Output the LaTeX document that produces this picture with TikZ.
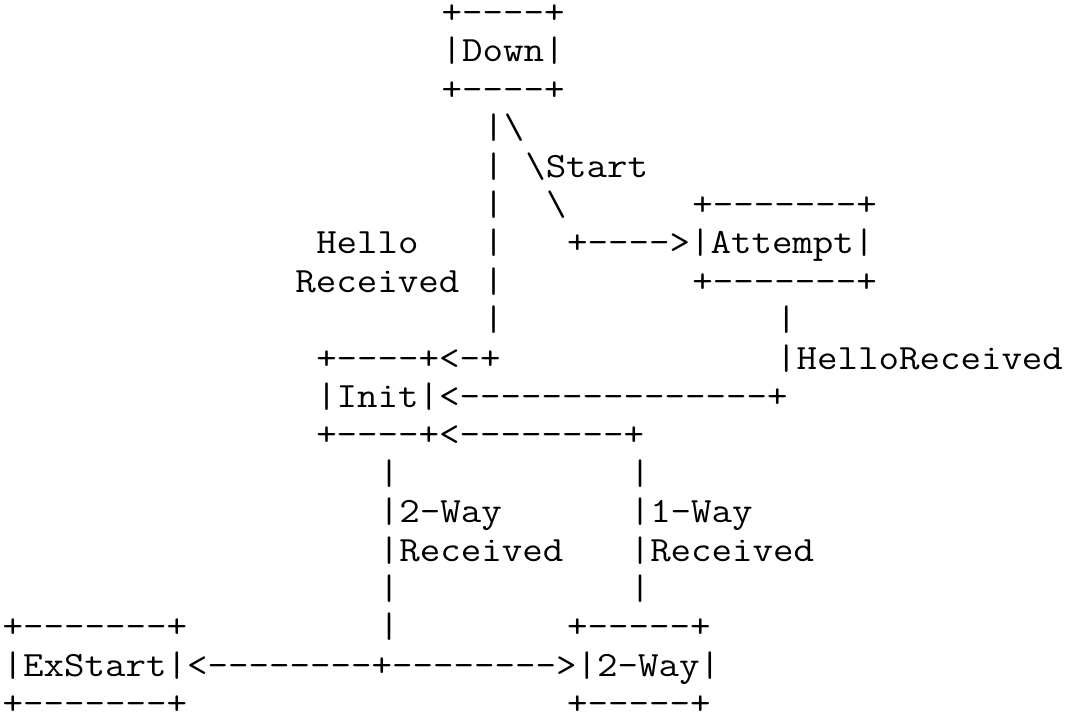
\documentclass[tikz,border=0pt]{standalone}
\usepackage{graphicx}
\newcommand\asc[1]{\scalebox{1.121}[1]{\fontsize{35.5pt}{38pt}\selectfont\ttfamily #1}}
\tikzset{txt/.style={inner sep=0pt, anchor=base west}}
\begin{document}
\begin{tikzpicture}[x=20.9pt, y=-38.39pt]
\useasboundingbox (-0.122,-0.615) rectangle (51.505,18.06);
\node[txt] (downtop) at (21,0) {\asc{+----+}};
\node[txt] (down) at (21,1) {\asc{|Down|}};
\node[txt] (downbot) at (21,2) {\asc{+----+}};
\node[txt] (hlA) at (23,3) {\asc{|\textbackslash}};
\node[txt] (hlB) at (23,4) {\asc{|}};
\node[txt] (startA) at (25,4) {\asc{\textbackslash Start}};
\node[txt] (hlC) at (23,5) {\asc{|}};
\node[txt] (startB) at (26,5) {\asc{\textbackslash}};
\node[txt] (attemptop) at (33,5) {\asc{+-------+}};
\node[txt] (hello) at (15,6) {\asc{Hello}};
\node[txt] (hlD) at (23,6) {\asc{|}};
\node[txt] (attempt) at (27,6) {\asc{+---->|Attempt|}};
\node[txt] (received) at (14,7) {\asc{Received}};
\node[txt] (hlE) at (23,7) {\asc{|}};
\node[txt] (attemptbot) at (33,7) {\asc{+-------+}};
\node[txt] (hlF) at (23,8) {\asc{|}};
\node[txt] (hrA) at (37,8) {\asc{|}};
\node[txt] (initop) at (15,9) {\asc{+----+<-+}};
\node[txt] (hrB) at (37,9) {\asc{|HelloReceived}};
\node[txt] (init) at (15,10) {\asc{|Init|<---------------+}};
\node[txt] (initbot) at (15,11) {\asc{+----+<--------+}};
\foreach \r in {12,15} {
  \node[txt] (twA\r) at (18,\r) {\asc{|}};
  \node[txt] (oneA\r) at (30,\r) {\asc{|}};
}
\node[txt] (twB) at (18,13) {\asc{|2-Way}};
\node[txt] (oneB) at (30,13) {\asc{|1-Way}};
\node[txt] (twC) at (18,14) {\asc{|Received}};
\node[txt] (oneC) at (30,14) {\asc{|Received}};
\node[txt] (exstartop) at (0,16) {\asc{+-------+}};
\node[txt] (twD) at (18,16) {\asc{|}};
\node[txt] (twowaytop) at (27,16) {\asc{+-----+}};
\node[txt] (exstart) at (0,17) {\asc{|ExStart|<--------+-------->|2-Way|}};
\node[txt] (exstartbot) at (0,18) {\asc{+-------+}};
\node[txt] (twowaybot) at (27,18) {\asc{+-----+}};
\end{tikzpicture}
\end{document}
